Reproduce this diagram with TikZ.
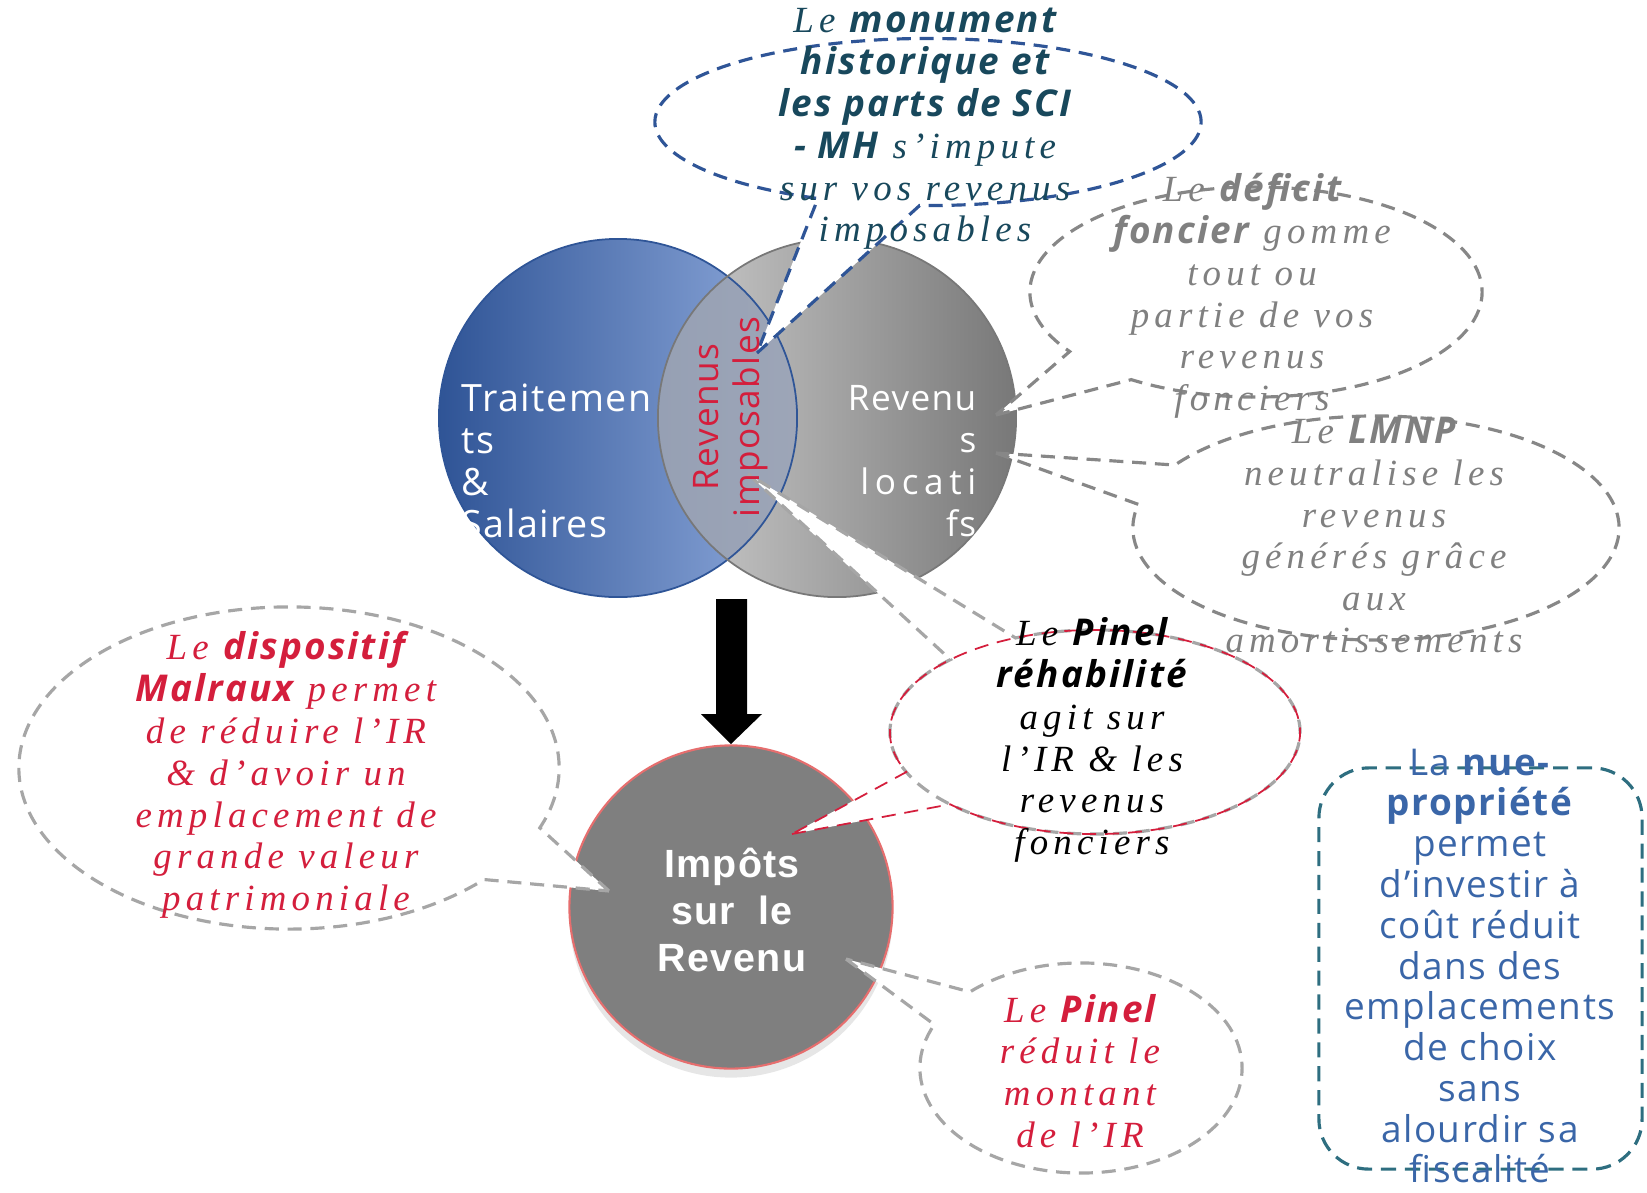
\documentclass[tikz,border=0pt]{standalone}
\usepackage{fontspec}
\usetikzlibrary{shapes.callouts,shadows}
\newfontfamily\fit{Liberation Serif}[LetterSpace=14]
\newfontfamily\fbi{Open Sans}[LetterSpace=6]
\newfontfamily\fsans{Open Sans}[LetterSpace=4]
\newfontfamily\farial{Liberation Sans}[LetterSpace=3]
\newcommand{\bi}[1]{{\fbi\bfseries\itshape #1}}
\definecolor{blueL}{RGB}{47,84,150}
\definecolor{blueR}{RGB}{143,170,220}
\definecolor{blueB}{RGB}{47,85,151}
\definecolor{grayL}{RGB}{205,205,205}
\definecolor{grayR}{RGB}{120,120,120}
\definecolor{grayB}{RGB}{120,120,120}
\definecolor{interL}{RGB}{150,160,180}
\definecolor{interR}{RGB}{168,174,188}
\definecolor{ircol}{RGB}{127,127,127}
\definecolor{irborder}{RGB}{230,110,110}
\definecolor{mhline}{RGB}{47,85,151}
\definecolor{mhtext}{RGB}{24,72,92}
\definecolor{grayline}{RGB}{135,135,135}
\definecolor{lgrayline}{RGB}{166,166,166}
\definecolor{graytext}{RGB}{128,128,128}
\definecolor{redtext}{RGB}{212,30,60}
\definecolor{redline}{RGB}{212,30,60}
\definecolor{tealline}{RGB}{46,110,128}
\definecolor{boxtext}{RGB}{58,102,168}
\begin{document}
\begin{tikzpicture}[x=0.01cm,y=-0.01cm,
  vcircle/.style={circle, minimum size=3.58cm, inner sep=0pt},
  callbase/.style={ellipse callout, fill=white, inner sep=0pt, callout pointer arc=22,
                   line width=0.9pt, dash pattern=on 4pt off 2.5pt},
  ctext/.style={align=center, inner sep=0pt, font=\fit\itshape\fontsize{10.5}{11.9}\selectfont},
  ctxt/.style={inner sep=0pt, text=white, font=\fsans\fontsize{10.7}{11.9}\selectfont}]
\useasboundingbox (0,0) rectangle (1647,1193);

% Venn circles
\node[vcircle, left color=blueL, right color=blueR] (trait) at (618,418) {};
\node[vcircle, left color=grayL, right color=grayR] (loc) at (837,418) {};
\begin{scope}
  \clip (trait.center) circle[radius=1.79cm];
  \shade[left color=interL, right color=interR] (loc.center) circle[radius=1.79cm];
\end{scope}
\draw[blueB, line width=0.5pt] (trait.center) circle[radius=1.79cm];
\draw[grayB, line width=0.5pt] (loc.center) circle[radius=1.79cm];

% Impots circle
\node[circle, minimum size=3.23cm, inner sep=0pt, fill=ircol, draw=irborder, line width=0.6pt,
      drop shadow={shadow xshift=0mm, shadow yshift=-0.9mm, opacity=0.2}] (ir) at (731,907) {};

% big arrow
\fill[black] (716,599) -- (747,599) -- (747,714) -- (762,714) -- (731,744) -- (701,714) -- (716,714) -- cycle;

% callout tips
\coordinate (tipMH) at (757,353);
\coordinate (tipDF) at (996,415);
\coordinate (tipLM) at (996,453);
\coordinate (tipPRg) at (748,474);
\coordinate (tipPRr) at (792,834);
\coordinate (tipMX) at (609,891);
\coordinate (tipPN) at (846,959);

% callouts
\node[callbase, draw=mhline, minimum width=5.46cm, minimum height=1.67cm,
      callout absolute pointer=(tipMH)] (mh) at (928,122) {};
\node[callbase, draw=grayline, minimum width=4.52cm, minimum height=2.10cm,
      callout absolute pointer=(tipDF)] (df) at (1256,292) {};
\node[callbase, draw=grayline, minimum width=4.86cm, minimum height=2.24cm,
      callout absolute pointer=(tipLM)] (lm) at (1376,528) {};
\node[callbase, draw=none, minimum width=4.10cm, minimum height=2.04cm,
      callout absolute pointer=(tipPRr)] (prfill) at (1095,732) {};
\node[callbase, draw=lgrayline, minimum width=4.10cm, minimum height=2.04cm,
      callout absolute pointer=(tipPRg)] (prg) at (1095,732) {};
\node[callbase, fill=none, draw=redline, line width=0.5pt, minimum width=4.10cm, minimum height=2.04cm,
      callout absolute pointer=(tipPRr)] (prr) at (1095,732) {};
\node[callbase, draw=lgrayline, minimum width=5.40cm, minimum height=3.22cm,
      callout absolute pointer=(tipMX)] (mx) at (289,768) {};
\node[callbase, draw=lgrayline, minimum width=3.22cm, minimum height=2.10cm,
      callout absolute pointer=(tipPN)] (pn) at (1081,1068) {};

% nue-propriete box
\node[draw=tealline, line width=0.9pt, dash pattern=on 4.3pt off 2.5pt, rounded corners=0.5cm,
      minimum width=3.23cm, minimum height=4.01cm, inner sep=0pt] (np) at (1480.5,968.5) {};

% circle texts
\node[ctxt, align=left, anchor=west] (traittxt) at (461,461) {Traitemen\\ts\\\&\\Salaires};
\node[ctxt, align=right, anchor=east, font=\fsans\fontsize{10}{11.9}\selectfont] (loctxt) at (977,461)
  {Revenu\\s\\{\addfontfeature{LetterSpace=16}locati}\\fs};
\node[inner sep=0pt, text=redtext, rotate=90, align=center, font=\fsans\fontsize{10}{11.6}\selectfont]
      (imptxt) at (731,417) {Revenus\\imposables};
\node[inner sep=0pt, text=white, align=center, font=\farial\bfseries\fontsize{11.2}{13.3}\selectfont]
      (irtxt) at (732,910) {Impôts\\sur\hspace{0.3em} le\\Revenu};

% callout texts
\node[ctext, text=mhtext] (mhtxt) at (925,129)
  {Le \bi{monument}\\\bi{historique et}\\\bi{les parts de SCI}\\\bi{- MH} s’impute\\sur vos revenus\\imposables};
\node[ctext, text=graytext] (dftxt) at (1252,296)
  {Le \bi{déficit}\\\bi{foncier} gomme\\tout ou\\partie de vos\\revenus\\fonciers};
\node[ctext, text=graytext] (lmtxt) at (1374,535)
  {Le \bi{LMNP}\\neutralise les\\revenus\\générés grâce\\aux\\amortissements};
\node[ctext, text=black] (prtxt) at (1092,740)
  {Le \bi{Pinel}\\\bi{réhabilité}\\agit sur\\l’IR \& les\\revenus\\fonciers};
\node[ctext, text=redtext] (mxtxt) at (286,775)
  {Le \bi{dispositif}\\\bi{Malraux} permet\\de réduire l’IR\\\& d’avoir un\\emplacement de\\grande valeur\\patrimoniale};
\node[ctext, text=redtext] (pntxt) at (1080,1071)
  {Le \bi{Pinel}\\réduit le\\montant\\de l’IR};
\node[inner sep=0pt, align=center, text=boxtext, font=\fsans\fontsize{10.5}{11.6}\selectfont] (nptxt) at (1480,966)
  {La \textbf{nue-}\\\textbf{propriété}\\permet\\d’investir à\\coût réduit\\dans des\\emplacements\\de choix\\sans\\alourdir sa\\fiscalité};
\end{tikzpicture}
\end{document}
